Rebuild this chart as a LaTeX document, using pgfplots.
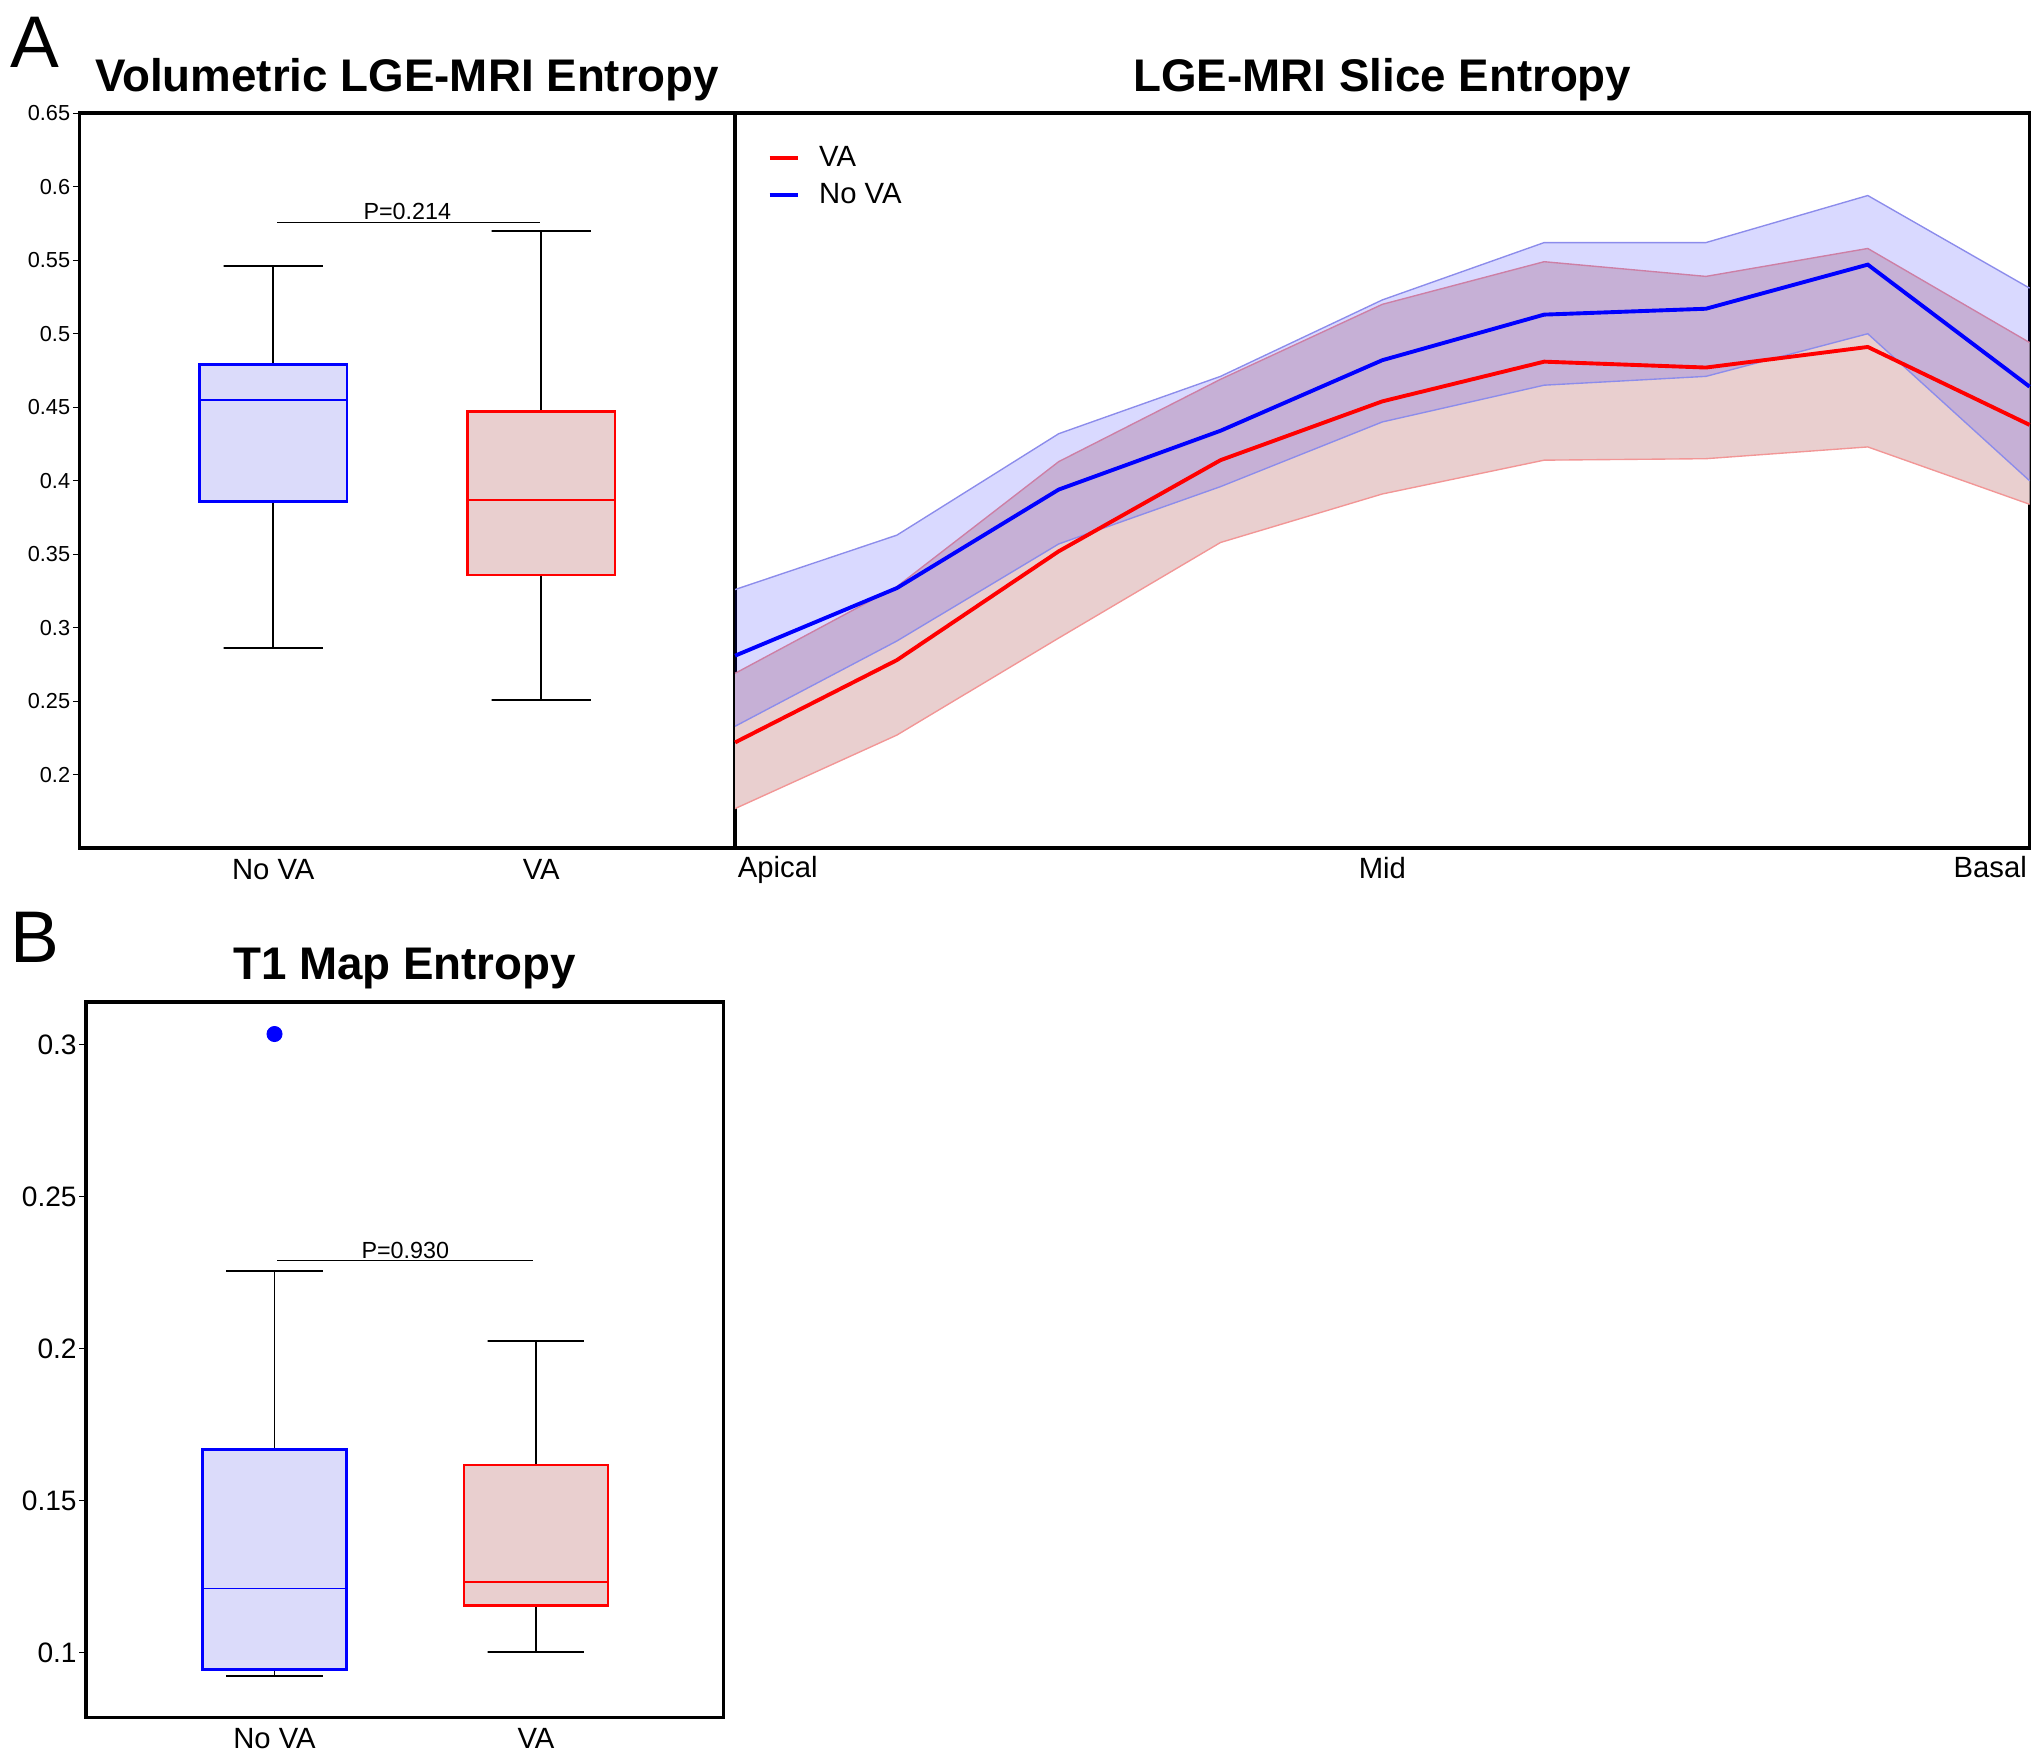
\documentclass[border=0pt]{standalone}
\usepackage{fontspec}
\setmainfont{Liberation Sans}
\usepackage{pgfplots}
\usepackage{pgfplotstable}
\pgfplotsset{compat=1.18}

\definecolor{bfill}{RGB}{219,219,250}
\definecolor{rfill}{RGB}{233,207,207}
\definecolor{bedge}{RGB}{140,140,235}
\definecolor{redge}{RGB}{242,150,150}

% slice entropy: mean and band limits, apical (1) to basal (9)
\pgfplotstableread{
x  va    vaL   vaU   nva   nvaL  nvaU
1  0.222 0.177 0.269 0.281 0.233 0.326
2  0.278 0.227 0.328 0.327 0.291 0.363
3  0.352 0.293 0.413 0.394 0.357 0.432
4  0.414 0.358 0.469 0.434 0.396 0.471
5  0.454 0.391 0.520 0.482 0.440 0.523
6  0.481 0.414 0.549 0.513 0.465 0.562
7  0.477 0.415 0.539 0.517 0.471 0.562
8  0.491 0.423 0.558 0.547 0.500 0.594
9  0.438 0.384 0.494 0.464 0.400 0.531
}\slicedata

% band outlines: upper limit apical->basal, then lower limit basal->apical
\pgfplotstableread{
x  va    nva
1  0.269 0.326
2  0.328 0.363
3  0.413 0.432
4  0.469 0.471
5  0.520 0.523
6  0.549 0.562
7  0.539 0.562
8  0.558 0.594
9  0.494 0.531
9  0.384 0.400
8  0.423 0.500
7  0.415 0.471
6  0.414 0.465
5  0.391 0.440
4  0.358 0.396
3  0.293 0.357
2  0.227 0.291
1  0.177 0.233
}\banddata

\pgfplotsset{
  panel/.style={
    scale only axis, anchor=south west,
    axis line style={line width=1.6pt},
    tick align=outside, major tick length=0.1cm,
    ytick pos=left, xtick pos=bottom,
    xtick style={draw=none},
    ytick style={black, line width=0.6pt},
    /pgf/number format/assume math mode=true,
    every axis title/.style={at={(0.5,1)}, anchor=base, yshift=0.34cm,
      font=\fontsize{20}{24}\selectfont\bfseries},
    yticklabel style={inner sep=1pt},
    xticklabel style={font=\fontsize{12.8}{15}\selectfont, yshift=0.05cm},
  },
  whisk/.style={black, line width=0.8pt},
}

\begin{document}
\begin{tikzpicture}
\path[use as bounding box] (0,0) rectangle (31.36cm,-27.1cm);

\node[anchor=base west, inner sep=0pt, font=\fontsize{32}{32}\selectfont] at (0.16cm,-1.04cm) {A};
\node[anchor=base west, inner sep=0pt, font=\fontsize{32}{32}\selectfont] at (0.16cm,-14.8cm) {B};

% A, left: volumetric entropy
\begin{axis}[panel, at={(1.22cm,-13.04cm)}, width=10.08cm, height=11.3cm,
  xmin=0.2767, xmax=2.723, ymin=0.15, ymax=0.65,
  xtick={1,2}, xticklabels={No VA, VA},
  ytick={0.2,0.25,0.3,0.35,0.4,0.45,0.5,0.55,0.6,0.65},
  yticklabel style={font=\fontsize{9.5}{11}\selectfont},
  title={Volumetric LGE-MRI Entropy}]
% No VA: whiskers 0.286/0.546, quartiles 0.386/0.479, median 0.455
\addplot[whisk] coordinates {(1,0.479) (1,0.546) (0.815,0.546) (1.185,0.546)};
\addplot[whisk] coordinates {(1,0.386) (1,0.286) (0.815,0.286) (1.185,0.286)};
\addplot[draw=blue, fill=bfill, line width=1.1pt] coordinates {(0.725,0.386) (1.275,0.386) (1.275,0.479) (0.725,0.479)} -- cycle;
\addplot[blue, line width=0.7pt] coordinates {(0.725,0.455) (1.275,0.455)};
% VA: whiskers 0.251/0.570, quartiles 0.336/0.447, median 0.387
\addplot[whisk] coordinates {(2,0.447) (2,0.570) (1.815,0.570) (2.185,0.570)};
\addplot[whisk] coordinates {(2,0.336) (2,0.251) (1.815,0.251) (2.185,0.251)};
\addplot[draw=red, fill=rfill, line width=1.1pt] coordinates {(1.725,0.336) (2.275,0.336) (2.275,0.447) (1.725,0.447)} -- cycle;
\addplot[red, line width=0.7pt] coordinates {(1.725,0.387) (2.275,0.387)};
\addplot[black, line width=0.6pt] coordinates {(1.015,0.5755) (1.995,0.5755)};
\node[anchor=base, font=\fontsize{10.2}{12}\selectfont] at (axis cs:1.5,0.5775) {P=0.214};
\end{axis}

% A, right: slice entropy
\begin{axis}[panel, at={(11.30cm,-13.04cm)}, width=19.9cm, height=11.3cm,
  xmin=1, xmax=9, ymin=0.15, ymax=0.65, clip=false,
  xtick={5}, xticklabels={Mid}, ytick={0.2}, yticklabels={}, ytick style={draw=none},
  xticklabel style={yshift=0.04cm},
  title={LGE-MRI Slice Entropy},
  legend style={at={(0,1)}, anchor=north west, xshift=0.39cm, yshift=-0.36cm,
    draw=none, fill=none, font=\fontsize{12.8}{15}\selectfont,
    row sep=2pt},
  legend cell align=left,
  legend image code/.code={\draw[#1, line width=1.7pt] (0cm,0cm) -- (0.44cm,0cm);
    \path (0.66cm,0cm);}]
\addplot[fill=rfill, draw=none, forget plot] table[x=x, y=va] {\banddata} -- cycle;
\addplot[redge, line width=0.6pt, forget plot] table[x=x, y=vaU] {\slicedata};
\addplot[redge, line width=0.6pt, forget plot] table[x=x, y=vaL] {\slicedata};
\addplot[fill=blue, fill opacity=0.15, draw=none, forget plot] table[x=x, y=nva] {\banddata} -- cycle;
\addplot[bedge, line width=0.6pt, forget plot] table[x=x, y=nvaU] {\slicedata};
\addplot[bedge, line width=0.6pt, forget plot] table[x=x, y=nvaL] {\slicedata};
\addplot[red, line width=1.7pt] table[x=x, y=va] {\slicedata};
\addlegendentry{VA}
\addplot[blue, line width=1.7pt] table[x=x, y=nva] {\slicedata};
\addlegendentry{No VA}
\node[anchor=north west, inner xsep=1pt, font=\fontsize{12.8}{15}\selectfont] at (rel axis cs:0,0) {Apical};
\node[anchor=north east, inner xsep=1pt, font=\fontsize{12.8}{15}\selectfont] at (rel axis cs:1,0) {Basal};
\end{axis}

% B: T1 map entropy
\begin{axis}[panel, at={(1.32cm,-26.4cm)}, width=9.8cm, height=11.0cm,
  xmin=0.2786, xmax=2.7164, ymin=0.0786, ymax=0.314,
  xtick={1,2}, xticklabels={No VA, VA},
  ytick={0.1,0.15,0.2,0.25,0.3},
  yticklabel style={font=\fontsize{12.3}{14}\selectfont},
  title={T1 Map Entropy}]
% No VA: whiskers 0.0923/0.2255, quartiles 0.0944/0.1668, median 0.121, outlier 0.3034
\addplot[whisk] coordinates {(1,0.1668) (1,0.2255) (0.815,0.2255) (1.185,0.2255)};
\addplot[whisk] coordinates {(1,0.0944) (1,0.0923) (0.815,0.0923) (1.185,0.0923)};
\addplot[draw=blue, fill=bfill, line width=1.1pt] coordinates {(0.725,0.0944) (1.275,0.0944) (1.275,0.1668) (0.725,0.1668)} -- cycle;
\addplot[blue, line width=0.7pt] coordinates {(0.725,0.121) (1.275,0.121)};
\addplot[only marks, mark=*, mark size=3.3pt, blue, mark options={fill=blue, draw=blue}] coordinates {(1,0.3034)};
% VA: whiskers 0.100/0.2023, quartiles 0.1154/0.1617, median 0.1231
\addplot[whisk] coordinates {(2,0.1617) (2,0.2023) (1.815,0.2023) (2.185,0.2023)};
\addplot[whisk] coordinates {(2,0.1154) (2,0.100) (1.815,0.100) (2.185,0.100)};
\addplot[draw=red, fill=rfill, line width=1.1pt] coordinates {(1.725,0.1154) (2.275,0.1154) (2.275,0.1617) (1.725,0.1617)} -- cycle;
\addplot[red, line width=0.7pt] coordinates {(1.725,0.1231) (2.275,0.1231)};
\addplot[black, line width=0.6pt] coordinates {(1.01,0.2289) (1.99,0.2289)};
\node[anchor=base, font=\fontsize{10.2}{12}\selectfont] at (axis cs:1.5,0.2297) {P=0.930};
\end{axis}
\end{tikzpicture}
\end{document}
